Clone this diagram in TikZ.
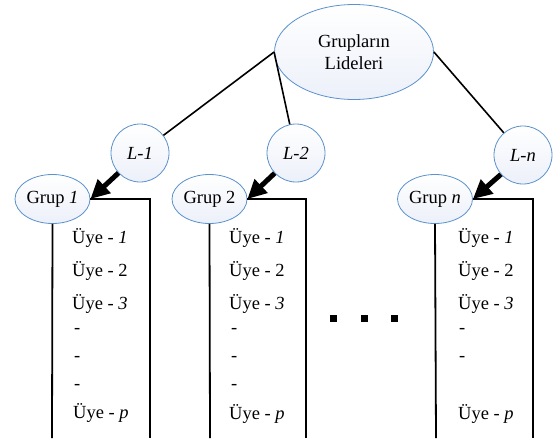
\documentclass[tikz,border=0pt]{standalone}
\usepackage{fontspec}
\setmainfont{Liberation Serif}
\usepackage{xcolor}
\usepackage{tikz}
\usetikzlibrary{arrows.meta,shapes.geometric}
\definecolor{edgeblue}{RGB}{91,146,205}
\definecolor{ldfill}{RGB}{236,240,249}
\tikzset{
  lider/.style={ellipse, draw=edgeblue, line width=0.8pt, top color=white, bottom color=ldfill,
    minimum width=159pt, minimum height=95pt, align=center, font=\fontsize{18.5}{22}\selectfont},
  lnd/.style={circle, draw=edgeblue, line width=0.8pt, top color=white, bottom color=ldfill,
    minimum size=58pt, inner sep=0pt, font=\fontsize{18.5}{22}\selectfont\itshape},
  grp/.style={ellipse, draw=edgeblue, line width=0.8pt, top color=white, bottom color=ldfill,
    minimum width=75pt, minimum height=49pt, inner sep=0pt, font=\fontsize{18.5}{22}\selectfont},
  uye/.style={anchor=west, inner sep=0pt, font=\fontsize{18.5}{22}\selectfont},
  link/.style={draw=black, line width=1.6pt},
  side/.style={draw=black, line width=1.8pt},
  ptr/.style={draw=black, line width=5pt, -{Triangle[length=19pt,width=18pt]}},
  dot/.style={rectangle, fill=black, minimum size=7pt, inner sep=0pt}
}
\begin{document}
\begin{tikzpicture}[x=1pt, y=-1pt]
    \useasboundingbox (0,0) rectangle (559,439);
    % leaders
    \node[lider] (top) at (354,52) {Grupların\\Lideleri};
    \node[lnd] (l1) at (140,153) {L-1};
    \node[lnd] (l2) at (296,153) {L-2};
    \node[lnd] (ln) at (523,155) {L-n};
    \draw[link] (top.west)--(l1); \draw[link] (top.west)--(l2);
    \draw[link] (top.east)--(ln);
    % groups
    \node[grp] (g1) at (52.5,199) {Grup \textit{1}};
    \node[grp] (g2) at (209.5,199) {Grup 2};
    \node[grp] (gn) at (435,199) {Grup \textit{n}};
    \draw[ptr] (l1)--(g1.east);
    \draw[ptr] (l2)--(g2.east);
    \draw[ptr] (ln)--(gn.east);
    % member columns
    \coordinate (a1) at (52,438);  \coordinate (b1) at (150,438);
    \coordinate (a2) at (210,438); \coordinate (b2) at (306,438);
    \coordinate (an) at (436,438); \coordinate (bn) at (533,438);
    \draw[side] (g1.south)--(a1); \draw[side] (g1.east)-|(b1);
    \draw[side] (g2.south)--(a2); \draw[side] (g2.east)-|(b2);
    \draw[side] (gn.south)--(an); \draw[side] (gn.east)-|(bn);
    \node[uye] (m11) at (72,238) {Üye - \textit{1}};
    \node[uye] (m12) at (72,271) {Üye - 2};
    \node[uye] (m13) at (72,304) {Üye - \textit{3}};
    \node[uye] (d11) at (74,331) {-};
    \node[uye] (d12) at (74,359) {-};
    \node[uye] (d13) at (74,387) {-};
    \node[uye] (m1p) at (73,413) {Üye - \textit{p}};
    \node[uye] (m21) at (229,238) {Üye - \textit{1}};
    \node[uye] (m22) at (229,271) {Üye - 2};
    \node[uye] (m23) at (229,304) {Üye - \textit{3}};
    \node[uye] (d21) at (231,331) {-};
    \node[uye] (d22) at (231,359) {-};
    \node[uye] (d23) at (231,387) {-};
    \node[uye] (m2p) at (229,414) {Üye - \textit{p}};
    \node[uye] (mn1) at (458,238) {Üye - \textit{1}};
    \node[uye] (mn2) at (458,271) {Üye - 2};
    \node[uye] (mn3) at (458,304) {Üye - \textit{3}};
    \node[uye] (dn1) at (459,331) {-};
    \node[uye] (dn2) at (459,359) {-};
    \node[uye] (mnp) at (458,414) {Üye - \textit{p}};
    % ellipsis between columns
    \node[dot] (e1) at (333,318) {};
    \node[dot] (e2) at (364,318) {};
    \node[dot] (e3) at (394,318) {};
  \end{tikzpicture}
\end{document}
